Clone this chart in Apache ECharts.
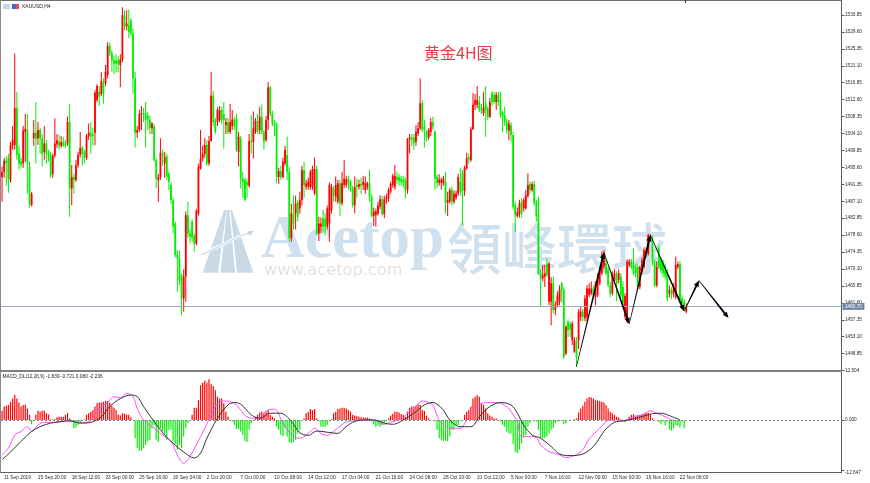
<!DOCTYPE html>
<html><head><meta charset="utf-8">
<style>html,body{margin:0;padding:0;background:#fff}#c{width:870px;height:483px}</style>
<script src="https://cdn.jsdelivr.net/npm/echarts@6/dist/echarts.min.js"></script>
</head><body><div id="c"></div>
<script>
// rows: [open, close, low, high]
const candlesSep = [
[1493.2,1494.5,1487,1495.8],[1494.5,1497.3,1493,1498],[1497.3,1496.6,1491,1498.5],[1498,1492.8,1489.2,1499],[1492.4,1501.2,1491.8,1502],[1501.2,1502.5,1500,1506],[1501.2,1510.5,1500,1524.2],[1510.5,1498.7,1497.5,1514.6],[1499,1496.6,1495,1501],[1497,1496.2,1495.5,1498],
[1496.6,1504.9,1495.5,1506],[1504.5,1505.3,1497,1509],[1505,1496.6,1489,1509],[1495.8,1486.4,1485.5,1497],[1486.1,1488.9,1485.8,1489.5],[1502.9,1504.3,1501,1507.5],[1504.3,1502.7,1496.6,1512],[1502.9,1505,1501.2,1507],[1505,1502.9,1499,1505.5],[1502.9,1499,1495.8,1504],
[1499.5,1501.6,1497.5,1506],[1501.6,1499,1496.6,1502.5],[1499.2,1498.6,1497,1500],[1498.6,1493.6,1493,1499.5],[1494,1498.6,1493,1499],[1498.6,1501.6,1498,1507.9],[1501.4,1502.4,1500.5,1504],[1502,1501,1500,1503.7],[1501,1502,1500.5,1503.5],[1502,1501,1500.8,1503.3],
[1501.6,1501,1500.6,1502.5],[1501.6,1507,1501,1508.3],[1507,1490.3,1483.2,1511.5],[1490.3,1493.2,1486.1,1496.2],[1493.2,1492.4,1489,1494],[1492.4,1496.2,1492,1497.5],[1496.2,1498.7,1495.5,1499.5],[1498.7,1500.5,1498,1504.5],[1500.5,1499,1496,1501],[1499.5,1498,1496.6,1500],
[1498,1503.4,1497.5,1504],[1503.4,1504.3,1502.5,1506.6],[1504.3,1503.3,1499,1507],[1504,1503.6,1501,1505.5],[1504.3,1514.3,1501.2,1515],[1512.5,1516,1512,1516.5],[1514.6,1513.3,1511,1516],[1514,1517.2,1513.5,1519.5],[1517.2,1514,1511.6,1518],[1516.7,1519.6,1516,1521.3],
[1518.8,1526.1,1518,1527],[1526.1,1524.2,1523.5,1526.9],[1524.2,1522.4,1519.6,1525],[1522.4,1521.7,1519,1523.5],[1522.4,1521.7,1519.5,1524],[1522.5,1521.5,1519.5,1523.5],[1521.3,1522.7,1515.7,1524],[1522.7,1533.8,1522,1535.8],[1533.8,1531,1530,1535],[1531,1531.7,1530,1535],
[1531.3,1529.6,1528,1535.2],[1532.5,1529.2,1528.5,1533],[1529.2,1517.9,1514.2,1530.5],[1517.9,1504.3,1500.6,1519.6],[1504.3,1505,1503,1506],[1505,1509,1504.5,1510],[1509,1509.2,1505,1511],[1509.2,1508.9,1507,1510.5],[1509.2,1507.5,1500.6,1512],[1508.7,1507.6,1505,1509.5],
[1507.6,1505.4,1504,1508.5],[1505.4,1506.6,1504,1507],[1505.8,1497.4,1497,1506.5],[1497.4,1492.8,1490.5,1498],[1492.4,1493.2,1487,1494],[1493.2,1499.3,1492.5,1502.9],[1499.3,1498.3,1496,1500],[1496.6,1498.3,1493,1499.5],[1498.3,1493.2,1492.5,1499],[1494,1492,1490,1494.5],
[1491.2,1487.4,1486.5,1491.8],[1487.4,1480.7,1479,1488],[1481.5,1473.6,1473,1482],[1473.6,1472.8,1464.4,1474.8],[1472.8,1467.3,1466,1474.8],[1468.5,1462.7,1458.5,1469],[1462.7,1468.2,1459.4,1470],[1468.2,1483.6,1461.9,1484.5],[1483.6,1479,1478,1487],[1479,1478.2,1476.5,1480],
[1482,1478,1477,1482.5],[1478.4,1476.5,1474.4,1479],[1476.5,1484.7,1476,1485.2],[1484,1495.8,1483.5,1496.5]
];
const candlesOct = [
[1495.3,1497.8,1495,1505],[1497.8,1499,1497,1501],[1499,1501.2,1498,1503],[1501.2,1496.6,1496,1502.5],[1496.6,1502.2,1496,1503.5],[1502.2,1513.6,1502,1519.6],[1513.6,1507,1506,1514.8],[1507.2,1504.5,1504,1508],[1507,1510,1506,1510.7],[1507.5,1510,1507,1511],
[1510,1507.5,1506.5,1510.8],[1509,1507.5,1500.3,1512],[1506.2,1507,1504,1508],[1507,1504.5,1504,1508],[1504.5,1507,1504,1511.5],[1506,1507.6,1505,1510],[1507.6,1506,1505,1508.3],[1507.8,1499.9,1499.5,1509],[1499.5,1503.3,1495.8,1504.5],[1502.9,1492.8,1490.3,1503.5],
[1492.8,1492,1488,1494.5],[1492.4,1487.4,1487,1493],[1491.9,1491.2,1488,1492.8],[1491,1502.2,1490.5,1504],[1502.2,1501.9,1499,1508.7],[1502,1505.4,1497.8,1509.6],[1504.5,1507.3,1504,1508],[1507.3,1504.5,1504,1509],[1505,1508.3,1504,1510.8],[1508.3,1504.5,1504,1511.4],
[1504.5,1502,1500,1505],[1502.5,1507.5,1502,1508.5],[1507.5,1515.7,1505,1517],[1515.7,1509.1,1508.5,1516],[1509.1,1506.6,1506,1509.8],[1506.6,1506.2,1503.5,1507.5],[1506.4,1493.2,1491.6,1507],[1493.2,1494.7,1491.5,1495.5],[1494.7,1493.2,1492.5,1496],[1493.2,1497,1492.8,1498],
[1496.6,1500,1496,1501],[1498.7,1494.5,1492.4,1503.3],[1494.5,1477.8,1477,1495.8],[1477.8,1484,1476.9,1486.5],[1484,1481.5,1480,1488.6],[1484,1486.5,1480,1488.5],[1486.9,1483.2,1482,1487.5],[1485.3,1487.4,1484,1489.5],[1487.4,1494.9,1486,1496],[1494.9,1491.2,1488,1497],
[1490.7,1491.6,1490,1492.5],[1490.9,1492,1490,1493],[1490.7,1494.5,1490,1495],[1490.7,1495.2,1490,1496],[1489,1495.2,1488.6,1498.1],[1495.2,1479,1478.6,1496],[1479,1481.5,1477.1,1483.2],[1480.7,1481.5,1479,1483],[1482.8,1480.7,1479,1484.9],[1482.8,1480.7,1478.5,1484],
[1480.7,1485.3,1480,1486],[1481.5,1491.2,1476.9,1491.8],[1484.9,1490.7,1484,1491.5],[1490.3,1488.6,1487,1491],[1488.2,1491.2,1487,1493.3],[1487,1491.6,1486.5,1492.5],[1491.6,1486.6,1483.4,1492.5],[1486.6,1491.6,1486,1494.5],[1491.2,1492.8,1490.5,1497.4],[1491.2,1492.6,1490.5,1493.5],
[1492.8,1491.6,1490,1493.5],[1492,1490.3,1489.5,1492.5],[1490.3,1486.1,1485.5,1491],[1486.1,1490.7,1484,1493.3],[1491.2,1490.7,1488,1492.8],[1490.7,1491.4,1490,1492.5],[1491.4,1490.9,1489,1493],[1491.2,1492,1490,1493.5],[1489.9,1491.7,1489,1493.3],[1490.7,1491.6,1490,1492],
[1491.6,1488.2,1487,1495],[1488.2,1483.4,1483,1489],[1483.4,1484.5,1480.9,1485.5],[1483.6,1484.5,1480.7,1485.3],[1484,1486,1483.5,1487],[1485.7,1487.6,1485,1488.6],[1487.6,1483.9,1483.5,1488.5],[1483.9,1487.6,1482.8,1488.5],[1487.6,1488,1486.5,1489],[1487.8,1489.9,1487,1490.5],
[1489.5,1491.4,1489,1492],[1491.2,1493.5,1490.5,1494],[1490.7,1493.5,1490,1496.2],[1493.2,1492.4,1491.5,1494.5],[1493.2,1492.2,1491,1494],[1492.8,1492,1491,1493.5],[1492.6,1491.8,1490.5,1493.5],[1492.4,1489.9,1487.8,1493],[1489.9,1502.7,1489,1503],[1502.7,1503.1,1499.1,1504],
[1503.1,1502.5,1501,1504],[1503.1,1501.6,1500,1504],[1502,1504.5,1501,1506.2],[1504.1,1505.4,1503.5,1507],[1505.4,1511.7,1505,1518],[1511.7,1505,1504.5,1512.5],[1505.8,1505,1500.6,1507.5],[1504.5,1503.1,1502,1505],[1503.1,1505,1502.5,1505.5],[1504.5,1507,1503.5,1508],
[1507,1505.8,1505,1508.3],[1504.5,1492.8,1489.9,1505],[1493.2,1491.7,1490.5,1493.8],[1491.7,1492.6,1491,1493.9],[1491.8,1492.4,1490,1493],[1491.6,1492.8,1491,1493.5],[1492,1486.7,1484,1494.5],[1486.7,1487.4,1483.4,1489.5],[1487,1489.9,1486.5,1490.5],[1490,1487,1486,1490.8],
[1487,1489,1486.5,1489.8],[1488,1489,1487.5,1489.8],[1489,1493.2,1488.5,1494],[1492,1489.5,1488.5,1495.5],[1494,1489.5,1481.1,1495],[1489.7,1495.6,1488.5,1496],[1495.3,1497.9,1495,1499.3],[1498.2,1497.6,1496.5,1499],[1497.4,1505.2,1497,1505.8],[1505.2,1511.3,1505,1514.2]
];
const candlesNov = [
[1511.3,1512.5,1510,1514],[1511.3,1512.5,1510.5,1516],[1512,1510,1509.5,1513.5],[1510.4,1510,1509,1511.5],[1509.2,1510.8,1508.5,1514.6],[1511.7,1510,1503.3,1516],[1510.4,1508.3,1507.5,1511],[1508.3,1512,1508,1513],[1514.2,1512,1511,1514.8],[1513.8,1512,1511.5,1514.5],
[1512,1513.8,1510,1514.5],[1513.8,1512,1511,1514.6],[1512.5,1508.7,1508,1514.6],[1509.2,1508.3,1504.5,1509.8],[1508.7,1507,1506,1510.8],[1507,1505,1504,1507.8],[1504.8,1506.6,1502.5,1507.5],[1506.2,1503.7,1502,1507],[1503.7,1485.7,1485,1504.5],[1486.1,1483.6,1479.4,1487],
[1483.4,1484.3,1483,1485.5],[1483.9,1486.6,1483,1487.5],[1487,1484,1483,1487.8],[1485.3,1487.4,1484.5,1488],[1485.3,1488.6,1485,1489.9],[1488.4,1491.2,1488,1494.1],[1491.4,1489.9,1489,1492],[1489.9,1491.4,1489.5,1492],[1491.4,1486.7,1486,1492.3],[1487,1483.4,1482,1487.5],
[1483.6,1469,1468.5,1488.2],[1469,1467.7,1460.6,1470],[1467.7,1468.6,1467,1471.1],[1468.2,1469,1465.6,1471.1],[1471.5,1468.6,1468,1472.7],[1461.9,1471.5,1461,1472],[1461.9,1466.5,1456,1468],[1466.5,1459.8,1459,1468.2],[1459.8,1461,1458.5,1462],[1461,1463.5,1460.5,1464.5],
[1461.9,1465,1461,1466],[1466.5,1464.8,1461.9,1466.8],[1464.8,1448,1447.5,1465.5],[1448.9,1455.6,1448.5,1456],[1456.8,1454.8,1453,1457.5],[1456.4,1454.8,1453,1457],[1452.2,1456.4,1451,1457],[1449.3,1452.2,1449,1453],[1452.2,1448,1445.5,1453],[1452.2,1459.4,1450,1460],
[1458.1,1459.4,1457,1460.5],[1459.4,1458.1,1457,1460],[1457.7,1462.7,1457,1463.5],[1458.1,1465.2,1457,1466],[1463.5,1465.2,1463,1466.5],[1464,1465.2,1463.5,1467],[1465.2,1463.5,1463,1466],[1463.1,1466.5,1461,1467],[1463.5,1468.2,1463,1469],[1466.5,1469.8,1466,1470.5],
[1469,1471.5,1468.5,1474.4],[1470.7,1474.2,1470,1474.8],[1471.5,1469,1468.5,1473],[1469.8,1466,1465.5,1470.5],[1466,1464,1463,1466.8],[1464,1468.6,1463.5,1469.5],[1467.3,1469,1467,1470],[1469,1466.5,1462,1469.5],[1467.3,1469,1466.5,1470],[1468.2,1463.5,1463,1469],
[1465.6,1461.5,1461,1467],[1458.1,1463.3,1457.5,1464],[1456.9,1471.9,1456.5,1472.5],[1471.1,1471.9,1470.5,1472.5],[1471.9,1470.6,1470,1472.5],[1471,1469,1468.5,1475.3],[1470.6,1469,1468,1471.5],[1470.6,1465.6,1465,1471.5],[1465.6,1470.6,1465,1471],[1469.4,1472.3,1469,1473],
[1470.6,1474.8,1470,1475.5],[1474,1474.8,1473,1475.5],[1474,1478.6,1473.5,1479],[1477.4,1478.2,1477,1478.8],[1477.8,1471.5,1471,1478.5],[1471.5,1466,1465.5,1472.5],[1466,1470.6,1465.5,1472],[1475.3,1470.6,1470,1476],[1472.3,1469.8,1469,1473],[1471.5,1469,1468,1472.5],
[1470.6,1468.2,1467.5,1471.5],[1469,1462.7,1462,1470],[1464,1464.8,1463,1466],[1464.8,1463.5,1462.5,1465.5],[1464,1465.6,1463,1466.5],[1463.1,1471.1,1462.5,1473.2],[1470.6,1471.3,1470,1472],[1471.3,1462.3,1461.5,1472],[1462.7,1461.5,1460.5,1463.5],[1461.9,1459.8,1459.5,1462.5],[1459.4,1460.7,1459,1461.5]
];
const histSep = [2.3,3.4,3.6,3.8,4.6,5.4,6.4,5.4,4.4,3.4,3.8,3.9,2.9,1.3,-1.1,0,1.3,2.3,2.1,2.3,2.3,1.7,1.4,.1,.1,.2,.7,.8,.8,.8,1.3,1.8,.4,-.6,-2.1,-1.9,-1.3,-.6,0,.1,1.3,1.7,2.1,2.5,3.4,4.2,4.4,4.4,4.6,4.8,4.8,4.4,3.6,3.1,2.5,1.4,1.1,1.7,1.6,1.3,1.3,.7,0,-4.6,-7.1,-7.8,-7.8,-7.1,-6.3,-5.4,-5,-2.1,-1.3,-5,-5.6,-2.1,-2.9,-3.4,-5,-2.5,-2.5,-5.4,-6.1,-7.5,-6.3,-7.1,-4.2,-2.1,-.8,0,1.3,3.1,3.1,5,8.8,9.5,10,9.4,10.3,9,8.6,7.5,5.9,5.4,5.4,4.2,2.1,.8,0,-.4,-1.3,-2.3,-2.3,-2.9,-3.8,-5.4,-5.6,-2.5,-.8,0,.8,1.3,1.9,2.1,1.7,2.1,2.5,1.3,.8,.4,-1.7,-2.5,-3.8,-4.2,-2.1,-4.2,-5.6,-5.9,-5.6,-5,-3.4];
const histOct = [-2.5,0,.4,1.7,2.1,2.8,2.5,2.8,.4,-.4,-1.7,-1.7,-1.7,-1.3,-.4,.2,1.7,2.1,2.8,2.9,3.1,3.1,2.9,2.5,2.1,1.3,1.1,1,.8,.7,.6,.6,.6,.4,-.4,-1.1,-1.8,-1.4,-1.7,-1.3,-.8,-.4,.4,1.1,1.5,2.1,2.1,1.9,1.5,1.3,.8,2.1,3.1,3.4,3.4,3.6,3.9,3.8,2.5,2.3,1.1,.4,0,0,-.4,-2.5,-4.6,-5,-5.3,-5.3,-5.4,-4.2,-2.5,-2.5,-1.3,-1.3,-.2,0,1.3,2.1,2.5,3.4,5.4,5.9,6.3,5.9,4.2,3.8,2.9,1.7,1.1,.8,.4,.4,0,-.4,-1.3,-1.7,-2.9,-3.4,-3.4,-6,-8.1,-8.4,-7.5,-5.9,-4.4,-3.8,-1.7,-.8,0,0,-.4,-2.5,-4.6,-4.6,-4.6,-4.2,-3.4,-2.5,-2.1,-.8,-.4,-.3,0,-1.1,-.8,0,0,0,.2];
const histNov = [.4,1.9,2.9,3.6,4.6,5.4,5.8,5.7,5.4,5,4.9,4.8,4.6,4.4,3.8,2.9,2.1,1.7,1.3,.8,.6,.2,0,-.6,0,.8,1.3,1.4,1.1,1.1,1.3,1.3,1.5,1.8,1.8,1.4,.4,0,0,-.6,-1.1,-.4,-1.4,-.4,-2.5,-2.7,-2.1,-1.3,-1.5,-1.9,-.4,-2.1];
// [bar index, value]
const macdMagenta = [[0,-8.8],[3,-7.1],[6,-3.8],[9,-2.9],[12,-1.7],[14,-2.9],[17,-1.3],[20,-.6],[25,-.6],[31,-.2],[36,-.6],[40,-.6],[44,1.3],[47,3.4],[50,4.4],[53,5.9],[56,5.6],[59,6.7],[62,5.9],[64,2.9],[67,0],[72,-2.1],[77,-4.2],[80,-5.4],[83,-8.8],[86,-11],[89,-9.2],[92,-6.3],[96,-2.1],[99,1.3],[102,4.2],[105,4.8],[110,4.2],[113,2.5],[116,.8],[121,.4],[126,2.5],[129,2.7],[133,-.8],[138,-4.2],[141,-4.6],[146,-2.9],[148,-2.1],[151,-3.4],[154,-3.9],[157,-2.9],[162,-.8],[165,-.3],[170,0],[176,0],[181,-1.1],[184,-.6],[189,.3],[193,2.1],[196,3.4],[199,4.8],[202,4.4],[204,3.8],[207,0],[212,-2.1],[217,-2.1],[220,0],[223,2.1],[226,3.9],[230,4.4],[234,4.4],[239,3.4],[242,1.3],[244,-.4],[246,-4.2],[250,-4.2],[253,-4.4],[255,-6.3],[259,-8],[264,-8.8],[267,-9.5],[271,-9],[275,-7.5],[278,-4.8],[283,-2.1],[286,-.4],[288,0],[291,-.4],[295,-.1],[299,.8],[303,1.3],[307,2.3],[310,1.7],[315,.6],[318,-.2]];
const macdBlack = [[0,-10],[4,-8.1],[9,-5.4],[14,-2.9],[18,-1.7],[23,-.8],[28,-.4],[32,-.2],[37,-.8],[42,-.6],[47,.8],[51,3.4],[56,5.4],[61,6.3],[64,5.9],[67,3.4],[72,-.4],[77,-3.8],[81,-5.9],[86,-8.1],[91,-9.6],[94,-8.4],[97,-4.6],[102,.4],[107,3.8],[110,4.4],[113,4],[118,1.3],[122,.4],[127,1.7],[132,1.7],[137,-.4],[141,-3.2],[145,-3.9],[149,-2.8],[154,-3.1],[159,-3.4],[162,-2.1],[166,-.6],[171,0],[176,0],[181,-.8],[185,-1.1],[190,0],[195,1.7],[200,3.8],[204,4.4],[206,4],[209,2.5],[212,0],[217,-1.7],[222,-1.7],[226,.8],[231,3.4],[236,4.4],[241,3.8],[244,1.7],[247,-1.3],[251,-3.8],[255,-4.6],[260,-6.7],[264,-8.6],[269,-9],[275,-8.6],[280,-6.7],[285,-2.9],[288,-1.3],[291,-.4],[295,-.2],[299,.3],[304,1],[308,1.6],[312,1.7],[316,1.1],[321,0]];
const arrowPoints = [[272,1445.6],[285,1474.2],[297,1456.3],[307,1478.6],[323,1459.5],[330,1467.2],[344,1457.8]];
const priceTicks = [1533.85,1529.60,1525.35,1521.10,1516.85,1512.60,1508.35,1504.10,1499.85,1495.60,1491.35,1487.10,1482.85,1478.60,1474.35,1470.10,1465.85,1461.60,1457.35,1453.10,1448.85];
const macdTicks = [12.504,0,-12.647];
const timeLabels = ['11 Sep 2019','15 Sep 20:00','18 Sep 12:00','23 Sep 00:00','25 Sep 16:00','30 Sep 04:00','2 Oct 20:00','7 Oct 00:00','10 Oct 08:00','14 Oct 12:00','17 Oct 04:00','21 Oct 16:00','24 Oct 08:00','28 Oct 20:00','31 Oct 12:00','5 Nov 00:00','7 Nov 16:00','12 Nov 00:00','15 Nov 00:00','19 Nov 16:00','22 Nov 08:00'];
const lastPrice = 1460.70;

const candles = candlesSep.concat(candlesOct, candlesNov);
const hist = histSep.concat(histOct, histNov);
const BARS_PER_LABEL = 16, SLOTS = 398;
const cats = Array.from({length:SLOTS},(_,i)=> i%BARS_PER_LABEL===0 && timeLabels[i/BARS_PER_LABEL] ? timeLabels[i/BARS_PER_LABEL] : '');
const isLabel = (i)=> cats[i] !== '';
const AX='#5a5a5a', TX='#2a2a2a', FF='"Liberation Sans",Arial,sans-serif';
const UP='#ff0000', DOWN='#00f000', WM='#cfe0ef';

const chart = echarts.init(document.getElementById('c'),null,{renderer:'canvas'});
chart.setOption({
  animation:false,
  backgroundColor:'#fff',
  grid:[{left:1,top:1,width:840.5,height:369},{left:1,top:370.5,width:840.5,height:102.2}],
  xAxis:[
    {type:'category',gridIndex:0,data:cats,boundaryGap:true,axisLine:{show:false},axisTick:{show:false},axisLabel:{show:false},splitLine:{show:false}},
    {type:'category',gridIndex:1,data:cats,boundaryGap:true,position:'bottom',
      axisLine:{onZero:false,lineStyle:{color:AX,width:1}},
      axisTick:{alignWithLabel:true,interval:(i)=>isLabel(i),length:3,lineStyle:{color:AX}},
      axisLabel:{interval:(i)=>isLabel(i),align:'left',margin:2,padding:[0,0,0,2],fontSize:4.8,fontFamily:FF,color:TX,hideOverlap:false,showMinLabel:true},
      splitLine:{show:false}}
  ],
  yAxis:[
    {type:'value',gridIndex:0,position:'right',min:1444.74,max:1537.36,
      axisLine:{show:true,lineStyle:{color:AX,width:1}},
      axisTick:{show:true,length:3,customValues:priceTicks,lineStyle:{color:AX}},
      axisLabel:{customValues:priceTicks,formatter:(v)=>v.toFixed(2),margin:3.5,fontSize:4.7,fontFamily:FF,color:TX,hideOverlap:false},
      splitLine:{show:false}},
    {type:'value',gridIndex:1,position:'right',min:-13.33,max:12.504,
      axisLine:{show:true,lineStyle:{color:AX,width:1}},
      axisTick:{show:true,length:3,customValues:macdTicks,lineStyle:{color:AX}},
      axisLabel:{customValues:macdTicks,formatter:(v)=>v.toFixed(3),margin:3.5,fontSize:4.7,fontFamily:FF,color:TX,hideOverlap:false,verticalAlignMaxLabel:'top'},
      splitLine:{show:false}}
  ],
  graphic:[
    {type:'group',silent:true,z:0,children:[
      {type:'polygon',shape:{points:[[224,210],[226.5,210],[218,272.7],[202.7,272.7]]},style:{fill:'#c9d9e6'}},
      {type:'polygon',shape:{points:[[227,210],[229.5,210],[235,272.7],[220.5,272.7]]},style:{fill:'#c9d9e6'}},
      {type:'polygon',shape:{points:[[230.5,210],[232,210],[253.3,272.7],[237,272.7]]},style:{fill:'#c9d9e6'}},
      {type:'polyline',shape:{points:[[201,254],[220,246],[238,237],[252,232]]},style:{stroke:'#fff',lineWidth:3,fill:'none'}},
      {type:'polyline',shape:{points:[[201,255],[220,246],[238,237],[252,232]]},style:{stroke:'#c3d6e6',lineWidth:1.2,fill:'none'}},
      {type:'polygon',shape:{points:[[254,230.5],[247,231.5],[250,236]]},style:{fill:'#c3d6e6'}},
      {type:'text',x:261,y:272,style:{text:'Acetop',font:'bold 61px "Liberation Serif",serif',fill:WM,textVerticalAlign:'bottom'}},
      {type:'text',x:264,y:271,style:{text:'www.acetop.com',font:'16.2px "DejaVu Sans",sans-serif',fill:'#e2e2e2',textVerticalAlign:'middle'}},
      {type:'text',x:447,y:248,style:{text:'領峰環球',font:'500 55px "Noto Sans CJK TC",sans-serif',fill:WM,textVerticalAlign:'middle'}}
    ]},
    {type:'rect',z:10,silent:true,shape:{x:0,y:0,width:842,height:1},style:{fill:'#6e6e6e'}},
    {type:'rect',z:10,silent:true,shape:{x:0,y:0,width:1,height:473},style:{fill:'#8a8a8a'}},
    {type:'rect',z:10,silent:true,shape:{x:0,y:370,width:842,height:2},style:{fill:'#808080'}},
    {type:'rect',z:10,silent:true,shape:{x:685,y:0,width:1,height:3},style:{fill:'#333'}},
    {type:'rect',z:10,silent:true,shape:{x:3,y:4,width:7,height:5},style:{fill:'#c9d3ea'}},
    {type:'rect',z:10,silent:true,shape:{x:12,y:4,width:4,height:5},style:{fill:'#4a63c9'}},
    {type:'rect',z:10,silent:true,shape:{x:16,y:4,width:3,height:5},style:{fill:'#e05050'}},
    {type:'text',z:10,x:22,y:6.5,style:{text:'XAUUSD,H4',font:'5px '+FF,fill:'#222',textVerticalAlign:'middle'}},
    {type:'text',z:10,x:2.5,y:376.5,style:{text:'MACD_DL(12,26,9) -1.839 -0.721 0.080 -2.236',font:'4.8px '+FF,fill:'#222',textVerticalAlign:'middle'}},
    {type:'text',z:10,x:424,y:52.5,style:{text:'黄金4H图',font:'16px "Noto Sans CJK SC",sans-serif',fill:'#ea3a42',textVerticalAlign:'middle'}}
  ],
  series:[
    {type:'custom',name:'XAUUSD',xAxisIndex:0,yAxisIndex:0,z:3,silent:true,
      encode:{x:0,y:[1,2,3,4]},
      data:candles.map((r,i)=>[i,r[0],r[1],r[2],r[3]]),
      renderItem:(params,api)=>{
        const x=api.coord([api.value(0),api.value(1)])[0];
        const o=api.coord([api.value(0),api.value(1)])[1], c=api.coord([api.value(0),api.value(2)])[1];
        const l=api.coord([api.value(0),api.value(3)])[1], h=api.coord([api.value(0),api.value(4)])[1];
        const fill=api.value(2)>=api.value(1)?UP:DOWN;
        const top=Math.min(o,c), bh=Math.max(1,Math.abs(o-c));
        return {type:'group',children:[
          {type:'rect',shape:{x:x-.5,y:h,width:1,height:l-h},style:{fill}},
          {type:'rect',shape:{x:x-.9,y:top,width:1.8,height:bh},style:{fill}}
        ]};
      },
      markLine:{silent:true,symbol:'none',precision:2,
        lineStyle:{color:'#9aa9bb',width:1,type:'solid'},
        label:{position:'end',distance:1,formatter:lastPrice.toFixed(2),color:'#fff',backgroundColor:'#6f89a8',fontSize:4.7,fontFamily:FF,padding:[1,2.5,1,2.5]},
        data:[{yAxis:lastPrice}]}},
    {type:'custom',xAxisIndex:0,yAxisIndex:0,z:5,clip:false,silent:true,
      encode:{x:[0,2],y:[1,3]},
      data:arrowPoints.slice(0,-1).map((p,i)=>[p[0],p[1],arrowPoints[i+1][0],arrowPoints[i+1][1]]),
      renderItem:(params,api)=>{
        const a=api.coord([api.value(0),api.value(1)]), b=api.coord([api.value(2),api.value(3)]);
        const dx=b[0]-a[0], dy=b[1]-a[1], L=Math.hypot(dx,dy), ux=dx/L, uy=dy/L, nx=-uy, ny=ux;
        const H=6, W=2.6, T=1;
        const nk=[b[0]-ux*H,b[1]-uy*H];
        return {type:'polygon',shape:{points:[
          [a[0]+nx*.3,a[1]+ny*.3],[nk[0]+nx*T,nk[1]+ny*T],[nk[0]+nx*W,nk[1]+ny*W],b,
          [nk[0]-nx*W,nk[1]-ny*W],[nk[0]-nx*T,nk[1]-ny*T],[a[0]-nx*.3,a[1]-ny*.3]]},
          style:{fill:'#000'}};
      }},
    {type:'bar',xAxisIndex:1,yAxisIndex:1,z:2,barWidth:1.2,data:hist,
      itemStyle:{color:(p)=>p.value>=0?UP:DOWN},
      markLine:{silent:true,symbol:'none',lineStyle:{color:'#8c8c8c',width:1,type:[2,2]},label:{show:false},data:[{yAxis:0}]}},
    {type:'line',xAxisIndex:1,yAxisIndex:1,z:4,smooth:.35,showSymbol:false,data:macdMagenta,lineStyle:{color:'#ff4dff',width:1}},
    {type:'line',xAxisIndex:1,yAxisIndex:1,z:5,smooth:.35,showSymbol:false,data:macdBlack,lineStyle:{color:'#333',width:1}}
  ]
});
</script></body></html>
